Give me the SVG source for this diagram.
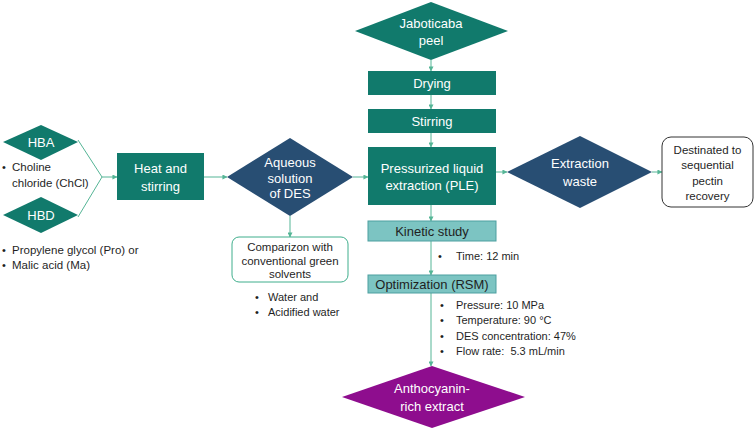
<svg xmlns="http://www.w3.org/2000/svg" width="756" height="428" viewBox="0 0 756 428">
<style>
text{font-family:"Liberation Sans",Arial,sans-serif;}
.t{font-size:13px;fill:#ffffff;text-anchor:middle;}
.d{font-size:13px;fill:#1f1f1f;text-anchor:middle;}
.l{font-size:11.5px;fill:#1f1f1f;}
.s{font-size:11.5px;fill:#1f1f1f;text-anchor:middle;}
.b{font-size:11px;fill:#1f1f1f;}
.teal{fill:#117a6c;}
.navy{fill:#284e73;}
.light{fill:#7cc4c2;stroke:#4d9fa0;stroke-width:1;}
.c{stroke:#55b596;stroke-width:1;fill:none;}
</style>
<defs>
<marker id="ah" viewBox="0 0 6 6" refX="5.5" refY="3" markerWidth="5" markerHeight="5" orient="auto" markerUnits="userSpaceOnUse">
<path d="M0,0 L6,3 L0,6 z" fill="#55b596"/>
</marker>
</defs>
<rect width="756" height="428" fill="#ffffff"/>

<g id="connectors">
<line class="c" x1="78" y1="140" x2="102" y2="177"/>
<line class="c" x1="78" y1="217" x2="102" y2="177"/>
<line class="c" x1="102" y1="177" x2="117" y2="177" marker-end="url(#ah)"/>
<line class="c" x1="204" y1="177" x2="227" y2="177" marker-end="url(#ah)"/>
<line class="c" x1="290" y1="216" x2="290" y2="237" marker-end="url(#ah)"/>
<line class="c" x1="353" y1="177" x2="368" y2="177" marker-end="url(#ah)"/>
<line class="c" x1="496" y1="172" x2="507" y2="172" marker-end="url(#ah)"/>
<line class="c" x1="652" y1="172" x2="662" y2="172" marker-end="url(#ah)"/>
<line class="c" x1="431" y1="60" x2="431" y2="71" marker-end="url(#ah)"/>
<line class="c" x1="431" y1="95" x2="431" y2="109" marker-end="url(#ah)"/>
<line class="c" x1="431" y1="133" x2="431" y2="147" marker-end="url(#ah)"/>
<line class="c" x1="431" y1="205" x2="431" y2="221" marker-end="url(#ah)"/>
<line class="c" x1="431" y1="241" x2="431" y2="275" marker-end="url(#ah)"/>
<line class="c" x1="431" y1="293" x2="431" y2="366" marker-end="url(#ah)"/>
</g>

<g id="hba">
<polygon class="teal" points="41,125 78,142 41,160 3,142"/>
<text class="t" x="41" y="147">HBA</text>
<text class="b" x="2" y="171">•</text>
<text class="l" x="12" y="171">Choline</text>
<text class="l" x="12" y="187">chloride (ChCl)</text>
</g>

<g id="hbd">
<polygon class="teal" points="41,197 78,215 41,233 3,215"/>
<text class="t" x="41" y="220">HBD</text>
<text class="b" x="2" y="254">•</text>
<text class="l" x="12" y="254">Propylene glycol (Pro) or</text>
<text class="b" x="2" y="269">•</text>
<text class="l" x="12" y="269">Malic acid (Ma)</text>
</g>

<g id="heat">
<rect class="teal" x="117" y="153" width="87" height="47"/>
<text class="t" x="160.5" y="173">Heat and</text>
<text class="t" x="160.5" y="191">stirring</text>
</g>

<g id="aqueous">
<polygon class="navy" points="290,138 353,177 290,216 227,177"/>
<text class="t" x="290" y="167">Aqueous</text>
<text class="t" x="290" y="183">solution</text>
<text class="t" x="290" y="198">of DES</text>
</g>

<g id="comparizon">
<rect x="232" y="237" width="116" height="45" rx="7" fill="#ffffff" stroke="#3fae8c" stroke-width="1"/>
<text class="s" x="290" y="251">Comparizon with</text>
<text class="s" x="290" y="265">conventional green</text>
<text class="s" x="290" y="278">solvents</text>
<text class="b" x="255" y="301">•</text>
<text class="b" x="268" y="301">Water and</text>
<text class="b" x="255" y="316">•</text>
<text class="b" x="268" y="316">Acidified water</text>
</g>

<g id="jaboticaba">
<polygon class="teal" points="431,2 508,31 431,60 355,31"/>
<text class="t" x="431" y="28">Jaboticaba</text>
<text class="t" x="431" y="45">peel</text>
</g>

<g id="drying">
<rect class="teal" x="368" y="71" width="128" height="24"/>
<text class="t" x="432" y="88">Drying</text>
</g>

<g id="stirring">
<rect class="teal" x="368" y="109" width="128" height="24"/>
<text class="t" x="432" y="126">Stirring</text>
</g>

<g id="ple">
<rect class="teal" x="368" y="147" width="128" height="58"/>
<text class="t" x="432" y="173">Pressurized liquid</text>
<text class="t" x="432" y="190">extraction (PLE)</text>
</g>

<g id="waste">
<polygon class="navy" points="580,136 652,172 580,208 507,172"/>
<text class="t" x="580" y="168">Extraction</text>
<text class="t" x="580" y="186">waste</text>
</g>

<g id="pectin">
<rect x="662" y="137" width="91" height="70" rx="9" fill="#ffffff" stroke="#333333" stroke-width="1"/>
<text class="s" x="707.5" y="154">Destinated to</text>
<text class="s" x="707.5" y="169">sequential</text>
<text class="s" x="707.5" y="185">pectin</text>
<text class="s" x="707.5" y="200">recovery</text>
</g>

<g id="kinetic">
<rect class="light" x="368" y="221" width="128" height="20"/>
<text class="d" x="432" y="236">Kinetic study</text>
<text class="b" x="438" y="260">•</text>
<text class="b" x="456" y="260">Time: 12 min</text>
</g>

<g id="optimization">
<rect class="light" x="368" y="275" width="128" height="18"/>
<text class="d" x="432" y="289">Optimization (RSM)</text>
<text class="b" x="440" y="309">•</text>
<text class="b" x="456" y="309">Pressure: 10 MPa</text>
<text class="b" x="440" y="324">•</text>
<text class="b" x="456" y="324">Temperature: 90 °C</text>
<text class="b" x="440" y="340">•</text>
<text class="b" x="456" y="340">DES concentration: 47%</text>
<text class="b" x="440" y="355">•</text>
<text class="b" x="456" y="355">Flow rate:&#160; 5.3 mL/min</text>
</g>

<g id="anthocyanin">
<polygon points="432,366 525,397 432,428 342,397" fill="#8e0d8e"/>
<text class="t" x="432" y="393">Anthocyanin-</text>
<text class="t" x="432" y="411">rich extract</text>
</g>
</svg>
